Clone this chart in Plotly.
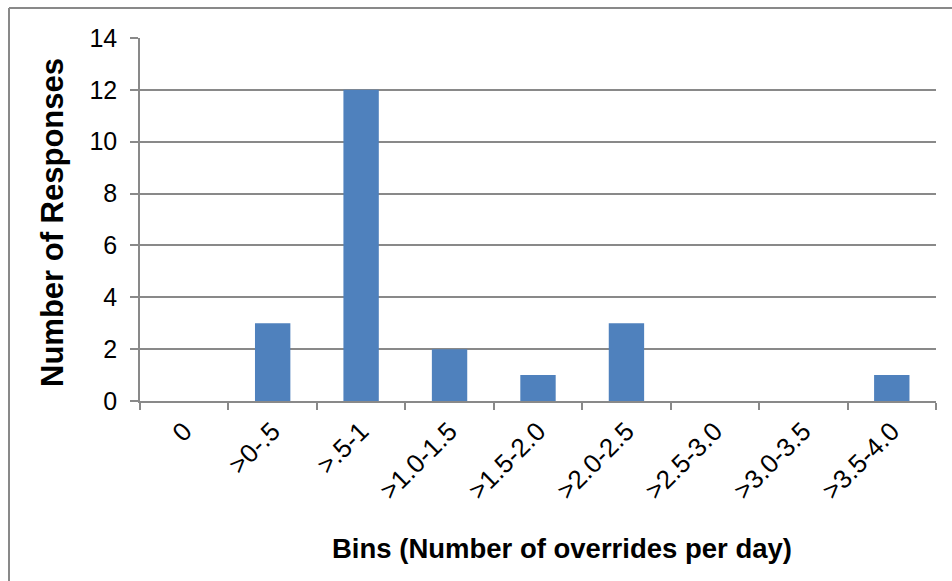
import plotly.graph_objects as go

# Response counts per override-rate bin
bins = ["0", ">0-.5", ">.5-1", ">1.0-1.5", ">1.5-2.0", ">2.0-2.5", ">2.5-3.0", ">3.0-3.5", ">3.5-4.0"]
responses = [0, 3, 12, 2, 1, 3, 0, 0, 1]
y_ticks = [0, 2, 4, 6, 8, 10, 12, 14]

W, H = 952, 581
L, R, T, B = 140, 16, 38, 180  # plot area margins in px
pw, ph = W - L - R, H - T - B

def px_x(px):
    return (px - L) / pw

def px_y(py):
    return (H - B - py) / ph

GRID = "#898989"
FONT = "Liberation Sans, Arial, sans-serif"

fig = go.Figure(
    go.Bar(
        x=bins,
        y=responses,
        marker=dict(color="#4F81BD", line=dict(width=0)),
        hoverinfo="x+y",
    )
)

fig.update_layout(
    width=W,
    height=H,
    margin=dict(l=L, r=R, t=T, b=B, pad=0),
    paper_bgcolor="white",
    plot_bgcolor="white",
    bargap=0.6,
    showlegend=False,
    font=dict(family=FONT, color="black"),
)

fig.update_xaxes(
    type="category",
    tickson="boundaries",
    ticks="outside",
    ticklen=7,
    tickwidth=1.5,
    tickcolor=GRID,
    showgrid=False,
    showline=True,
    linecolor=GRID,
    linewidth=1.5,
    tickangle=-45,
    tickfont=dict(size=26, family=FONT),
    ticklabelstandoff=3,
    range=[-0.5, len(bins) - 0.5],
)

fig.update_yaxes(
    range=[0, 14],
    tickvals=y_ticks,
    ticks="outside",
    ticklen=8,
    tickwidth=1.5,
    tickcolor=GRID,
    showgrid=True,
    gridcolor=GRID,
    gridwidth=1.5,
    showline=True,
    linecolor=GRID,
    linewidth=1.5,
    zeroline=False,
    tickfont=dict(size=25, family=FONT),
    ticklabelstandoff=8,
)

# Axis titles
fig.add_annotation(
    text="<b>Bins (Number of overrides per day)</b>",
    xref="paper", yref="paper",
    x=px_x(562), y=px_y(548),
    showarrow=False, xanchor="center", yanchor="middle",
    font=dict(size=27.5, family=FONT, color="black"),
)
fig.add_annotation(
    text="<b>Number of Responses</b>",
    xref="paper", yref="paper",
    x=px_x(53), y=px_y(223),
    showarrow=False, xanchor="center", yanchor="middle",
    textangle=-90,
    font=dict(size=31, family=FONT, color="black"),
)

# Chart frame (left and top edges)
fig.add_shape(type="line", xref="paper", yref="paper",
              x0=px_x(9), x1=px_x(9), y0=px_y(8), y1=px_y(H + 5),
              line=dict(color=GRID, width=2))
fig.add_shape(type="line", xref="paper", yref="paper",
              x0=px_x(9), x1=px_x(W + 5), y0=px_y(8), y1=px_y(8),
              line=dict(color=GRID, width=2))

fig.write_html("out.html")
